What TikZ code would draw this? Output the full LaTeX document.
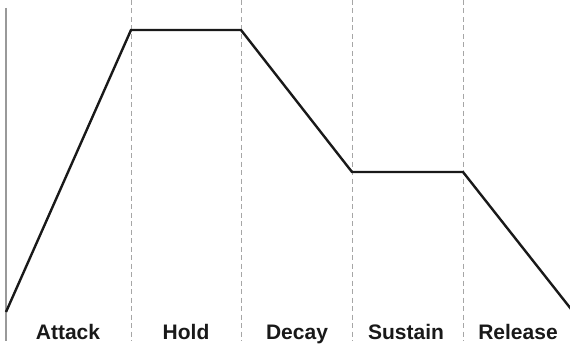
\documentclass[tikz,border=0pt]{standalone}
\usepackage{fontspec}
\setmainfont{Liberation Sans}
\begin{document}
\begin{tikzpicture}[x=1pt,y=-1pt,
  envelope/.style={line width=2.4pt,line join=miter,black!90},
  divider/.style={gray!70,line width=0.9pt,dash pattern=on 5pt off 3.5pt},
  axisline/.style={gray!80,line width=1.2pt},
  stagelabel/.style={font=\fontsize{21}{25}\selectfont\bfseries,anchor=base,text=black!90,inner sep=0pt}]
\useasboundingbox (0,0) rectangle (570,345);
% divider coordinates
\foreach \n/\x in {d1/131,d2/241,d3/352,d4/463}{
  \coordinate (\n top) at (\x,0);
  \coordinate (\n bot) at (\x,341);
}
\foreach \n in {d1,d2,d3,d4}{\draw[divider] (\n top) -- (\n bot);}
\coordinate (axtop) at (6,8);
\coordinate (axbot) at (6,341);
\draw[axisline] (axtop) -- (axbot);
% envelope
\coordinate (p0) at (6,312);
\coordinate (p1) at (131,30);
\coordinate (p2) at (241,30);
\coordinate (p3) at (352,172);
\coordinate (p4) at (463,172);
\coordinate (p5) at (571,309);
\draw[envelope] (p0) -- (p1) -- (p2) -- (p3) -- (p4) -- (p5);
% labels
\node[stagelabel] (attack) at (68,339) {Attack};
\node[stagelabel] (hold) at (186,339) {Hold};
\node[stagelabel] (decay) at (297,339) {Decay};
\node[stagelabel] (sustain) at (406,339) {Sustain};
\node[stagelabel] (release) at (518,339) {Release};
\end{tikzpicture}
\end{document}
